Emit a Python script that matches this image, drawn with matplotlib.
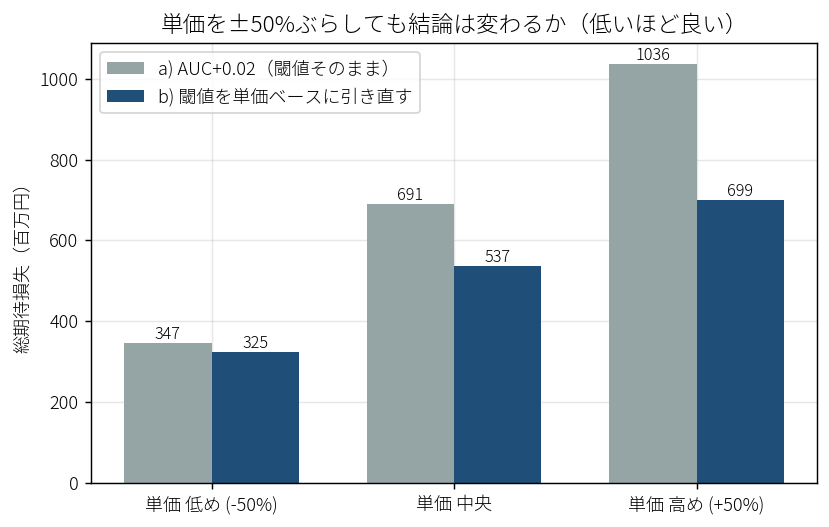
import matplotlib.pyplot as plt
import numpy as np

plt.rcParams["font.family"] = ["Noto Sans CJK JP", "DejaVu Sans"]
plt.rcParams["font.weight"] = "light"
plt.rcParams["axes.titleweight"] = "light"
plt.rcParams["axes.labelweight"] = "light"

CATEGORIES = ["単価 低め (-50%)", "単価 中央", "単価 高め (+50%)"]
SERIES_A = [347, 691, 1036]
SERIES_B = [325, 537, 699]
LABEL_A = "a) AUC+0.02（閾値そのまま）"
LABEL_B = "b) 閾値を単価ベースに引き直す"

x = np.arange(len(CATEGORIES))
width = 0.36

fig, ax = plt.subplots(figsize=(829 / 130, 527 / 130), dpi=130)
bars_a = ax.bar(x - width / 2, SERIES_A, width, color="#95a5a6", label=LABEL_A)
bars_b = ax.bar(x + width / 2, SERIES_B, width, color="#1f4e79", label=LABEL_B)

for bars in (bars_a, bars_b):
    for b in bars:
        ax.text(
            b.get_x() + b.get_width() / 2,
            b.get_height(),
            f"{b.get_height():.0f}",
            ha="center",
            va="bottom",
            fontsize=9,
        )

ax.set_xticks(x)
ax.set_xticklabels(CATEGORIES, fontsize=10)
ax.tick_params(axis="y", labelsize=10)
ax.set_ylabel("総期待損失（百万円）", fontsize=10)
ax.set_title("単価を±50%ぶらしても結論は変わるか（低いほど良い）", fontsize=12.5)
ax.legend(loc="upper left", fontsize=10)
ax.grid(alpha=0.3)
ax.set_axisbelow(True)
fig.subplots_adjust(left=0.110, right=0.9855, top=0.918, bottom=0.0835)
fig.savefig("out.png", dpi=130)
